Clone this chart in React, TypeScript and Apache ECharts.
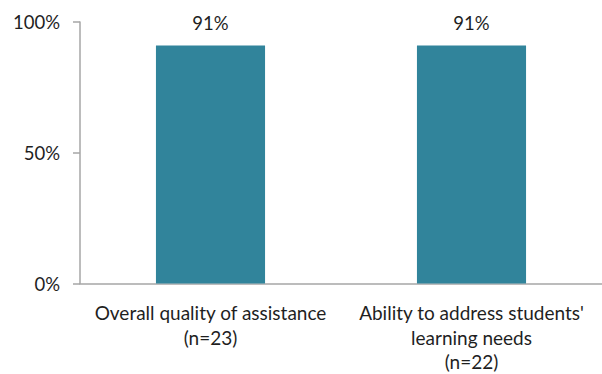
import React, { useEffect, useRef } from "react";
import * as echarts from "echarts";

const categories = [
  "Overall quality of assistance\n(n=23)",
  "Ability to address students'\nlearning needs\n(n=22)",
];
const values = [91, 91];
const yTicks = [0, 50, 100];

const FONT = "Lato, 'Open Sans', sans-serif";
const TEXT = "#1f1f1f";
const AXIS = "#a6a6a6";

export default function App() {
  const ref = useRef<HTMLDivElement>(null);

  useEffect(() => {
    if (!ref.current) return;
    const chart = echarts.init(ref.current, undefined, { renderer: "svg" });
    chart.setOption({
      animation: false,
      textStyle: { fontFamily: FONT },
      grid: { left: 80, right: 0, top: 22, bottom: 90, containLabel: false },
      xAxis: {
        type: "category",
        data: categories,
        axisLine: { show: true, lineStyle: { color: AXIS, width: 1.5 } },
        axisTick: { show: false },
        axisLabel: {
          interval: 0,
          margin: 17,
          fontSize: 19,
          lineHeight: 24.5,
          color: TEXT,
          fontFamily: FONT,
        },
      },
      yAxis: {
        type: "value",
        min: yTicks[0],
        max: yTicks[yTicks.length - 1],
        interval: 50,
        splitLine: { show: false },
        axisLine: { show: true, lineStyle: { color: AXIS, width: 1.5 } },
        axisTick: { show: true, length: 7, lineStyle: { color: AXIS, width: 1.5 } },
        axisLabel: {
          formatter: "{value}%",
          margin: 20,
          fontSize: 18.5,
          color: TEXT,
          fontFamily: FONT,
        },
      },
      series: [
        {
          type: "bar",
          data: values,
          barWidth: "41.8%",
          itemStyle: { color: "#31849B" },
          label: {
            show: true,
            position: "top",
            distance: 13,
            formatter: (p: any) => `${Math.round(p.value)}%`,
            fontSize: 18.5,
            color: TEXT,
            fontFamily: FONT,
          },
        },
      ],
    });
    return () => chart.dispose();
  }, []);

  return (
    <div
      ref={ref}
      style={{ position: "absolute", left: 0, top: 0, width: 602, height: 374, background: "#ffffff" }}
    />
  );
}
